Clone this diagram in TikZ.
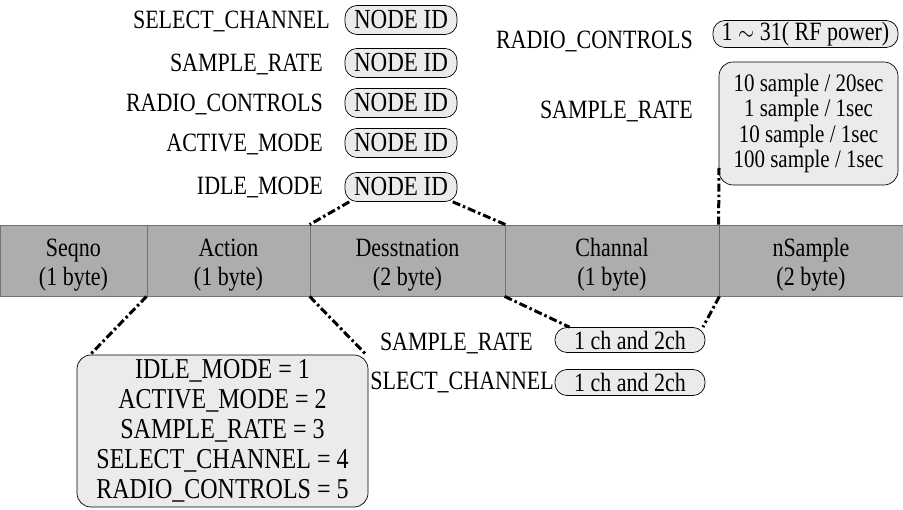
\documentclass[tikz,border=0pt]{standalone}
\usepackage{fontspec}
\usepackage{graphicx}
\setmainfont{Liberation Serif}
\usetikzlibrary{calc}
\newcommand\myfs[2]{\fontsize{#1}{#2}\selectfont}
\newcommand\stretchy[1]{\scalebox{1}[1.2]{#1}}
\newcommand\celltxt[2]{\rule{0pt}{26pt}\stretchy{#1}\\\stretchy{#2}}
\begin{document}
\begin{tikzpicture}[x=1pt,y=-1pt,
  lbl/.style={inner sep=0pt,font=\myfs{22}{26}},
  pill/.style={draw,line width=0.7pt,fill=black!8,rounded corners=12pt,inner sep=0pt},
  nodeid/.style={pill,minimum width=112pt,minimum height=29pt,font=\myfs{23}{28}},
  cell/.style={draw=black!55,line width=0.8pt,fill=black!32,inner sep=0pt,align=center,
     minimum height=71pt,font=\myfs{22}{29}},
  bigbox/.style={draw,line width=0.7pt,fill=black!8,rounded corners=14pt,inner sep=0pt,align=center},
  link/.style={line width=3pt,dash pattern=on 8pt off 3pt on 2.5pt off 3pt}
]
\useasboundingbox (0,0) rectangle (903,510);

% bar cells
\node[cell,minimum width=147pt] (seq)   at (73.5,260.5)  {\celltxt{Seqno}{(1 byte)}};
\node[cell,minimum width=163pt] (act)   at (228.5,260.5) {\celltxt{Action}{(1 byte)}};
\node[cell,minimum width=195pt] (dest)  at (407.5,260.5) {\celltxt{Desstnation}{(2 byte)}};
\node[cell,minimum width=214pt] (chan)  at (612,260.5)   {\celltxt{Channal}{(1 byte)}};
\node[cell,minimum width=184pt] (nsamp) at (811,260.5)   {\celltxt{nSample}{(2 byte)}};

% destination options
\node[nodeid] (n1) at (401,20)  {\stretchy{NODE ID}};
\node[nodeid] (n2) at (401,63)  {\stretchy{NODE ID}};
\node[nodeid] (n3) at (401,103) {\stretchy{NODE ID}};
\node[nodeid] (n4) at (401,143) {\stretchy{NODE ID}};
\node[nodeid] (n5) at (401,187) {\stretchy{NODE ID}};
\node[lbl,anchor=east] (l1) at (330,21)  {\stretchy{SELECT\_CHANNEL}};
\node[lbl,anchor=east] (l2) at (323,64)  {\stretchy{SAMPLE\_RATE}};
\node[lbl,anchor=east] (l3) at (323,104) {\stretchy{RADIO\_CONTROLS}};
\node[lbl,anchor=east] (l4) at (323,144) {\stretchy{ACTIVE\_MODE}};
\node[lbl,anchor=east] (l5) at (323,187) {\stretchy{IDLE\_MODE}};

% nSample options
\node[pill,minimum width=185pt,minimum height=27pt,font=\myfs{22}{26}] (rf) at (805.5,34) {\stretchy{1 $\sim$ 31( RF power)}};
\node[lbl,anchor=east] (rl) at (693,41) {\stretchy{RADIO\_CONTROLS}};
\node[bigbox,minimum width=179pt,minimum height=123pt,font=\myfs{21}{25.5}] (sbox) at (808.5,123.5)
  {\stretchy{10 sample / 20sec}\\\stretchy{1 sample / 1sec}\\\stretchy{10 sample / 1sec}\\\stretchy{100 sample / 1sec}};
\node[lbl,anchor=east] (sl) at (693,111) {\stretchy{SAMPLE\_RATE}};

% action values
\node[bigbox,minimum width=291pt,minimum height=152pt,font=\myfs{24}{30}] (abox) at (222.5,431)
  {\stretchy{IDLE\_MODE = 1}\\\stretchy{ACTIVE\_MODE = 2}\\\stretchy{SAMPLE\_RATE = 3}\\\stretchy{SELECT\_CHANNEL = 4}\\\stretchy{RADIO\_CONTROLS = 5}};

% channel options
\node[pill,minimum width=150pt,minimum height=25pt,font=\myfs{22}{26}] (ch1) at (630,340) {\stretchy{1 ch and 2ch}};
\node[pill,minimum width=150pt,minimum height=26pt,font=\myfs{22}{26}] (ch2) at (630,382.5) {\stretchy{1 ch and 2ch}};
\node[lbl,anchor=east] (cl1) at (533,343) {\stretchy{SAMPLE\_RATE}};
\node[lbl,anchor=east] (cl2) at (554,382) {\stretchy{SLECT\_CHANNEL}};

% connectors
\coordinate (sv) at (719,168);
\draw[link] (n5.196) -- (dest.north west);
\draw[link] (n5.-16) -- (dest.north east);
\draw[link] (act.south west) -- (abox.150);
\draw[link] (dest.south west) -- (abox.28);
\draw[link] (chan.south west) -- (ch1.168);
\draw[link] (chan.south east) -- (ch1.10);
\draw[link] (nsamp.north west) -- (sv);
\end{tikzpicture}
\end{document}
